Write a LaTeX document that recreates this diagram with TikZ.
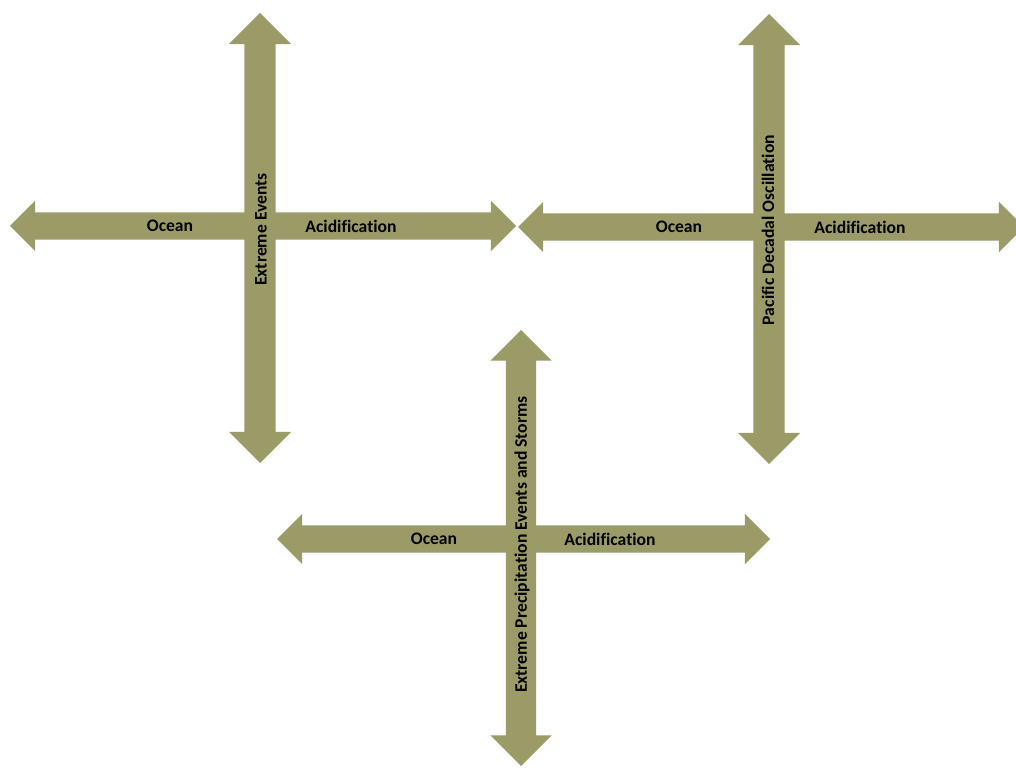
\documentclass[tikz,border=0pt]{standalone}
\usepackage{tikz}
\usepackage{fontspec}
\setmainfont[Ligatures=NoCommon]{Carlito}
\usetikzlibrary{shapes.arrows, positioning}
\definecolor{armcolor}{RGB}{155,155,104}

\tikzset{
    harm/.style={double arrow, fill=armcolor, draw=none, inner xsep=0pt, inner ysep=13.5pt,
        double arrow head extend=11.5pt, double arrow tip angle=90, outer sep=0pt},
    varm/.style={double arrow, rotate=90, fill=armcolor, draw=none, inner xsep=0pt, inner ysep=15.5pt,
        double arrow head extend=15.5pt, double arrow tip angle=90, outer sep=0pt},
    armlabel/.style={font=\fontsize{17.6}{20}\selectfont\bfseries, inner sep=0pt}
}

\begin{document}
\begin{tikzpicture}[x=1pt, y=1pt]
    \useasboundingbox (0,0) rectangle (1016,768);

    % Extreme Events cross - top left
    \node[harm, minimum height=506pt] (hbar1) at (263,542) {};
    \node[varm, minimum height=450pt] (vbar1) at (260,530) {};
    \node (ocean1) at (170,542) [armlabel] {Ocean};
    \node (acid1) at (351,542) [armlabel] {Acidification};
    \node (events1) at (261,538.5) [armlabel, rotate=90] {Extreme Events};

    % Pacific Decadal Oscillation cross - top right
    \node[harm, minimum height=506pt] (hbar2) at (771,541) {};
    \node[varm, minimum height=450pt] (vbar2) at (769,529) {};
    \node (ocean2) at (679,541) [armlabel] {Ocean};
    \node (acid2) at (860,541) [armlabel] {Acidification};
    \node (pdo2) at (768,538) [armlabel, rotate=90] {Pacific Decadal Oscillation};

    % Extreme Precipitation cross - bottom
    \node[harm, minimum height=493pt] (hbar3) at (523.5,229) {};
    \node[varm, minimum height=436pt, inner ysep=15pt] (vbar3) at (521,220) {};
    \node (ocean3) at (434,229) [armlabel] {Ocean};
    \node (acid3) at (610,229) [armlabel] {Acidification};
    \node (storms3) at (522,223.5) [armlabel, rotate=90] {Extreme Precipitation Events and Storms};

\end{tikzpicture}
\end{document}
